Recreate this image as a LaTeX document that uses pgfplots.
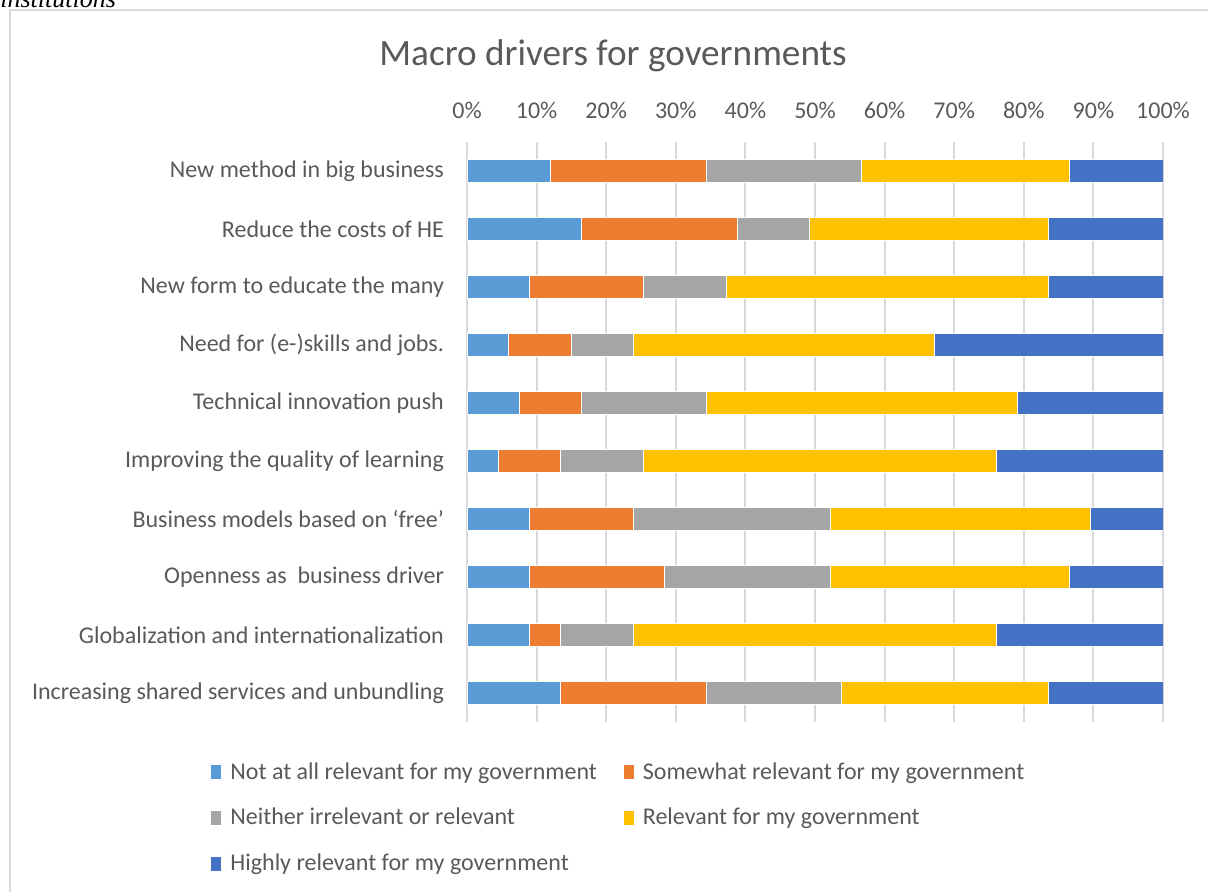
\documentclass[border=0pt]{standalone}
\usepackage{fontspec}
\setmainfont{Carlito}
\newfontfamily\timesf{Liberation Serif}
\usepackage{pgfplots}
\usepackage{pgfplotstable}
\pgfplotsset{compat=1.18}

\definecolor{txt}{HTML}{595959}
\definecolor{gridc}{HTML}{D9D9D9}
\definecolor{c1}{HTML}{5B9BD5}
\definecolor{c2}{HTML}{ED7D31}
\definecolor{c3}{HTML}{A5A5A5}
\definecolor{c4}{HTML}{FFC000}
\definecolor{c5}{HTML}{4472C4}

% shares of answers in percent, row 9 = top bar
\pgfplotstableread{
y  a      b      c      d      e
9  11.94  22.39  22.39  29.85  13.43
8  16.42  22.39  10.45  34.33  16.42
7  8.96   16.42  11.94  46.27  16.42
6  5.97   8.96   8.96   43.28  32.84
5  7.46   8.96   17.91  44.78  20.90
4  4.48   8.96   11.94  50.75  23.88
3  8.96   14.93  28.36  37.31  10.45
2  8.96   19.40  23.88  34.33  13.43
1  8.96   4.48   10.45  52.24  23.88
0  13.43  20.90  19.40  29.85  16.42
}\drivers

\begin{document}
\begin{tikzpicture}
\useasboundingbox (0,0) rectangle (604pt,445.5pt);
\clip (0,0) rectangle (604pt,445.5pt);
% caption text of the surrounding page, cut off
\node[anchor=base west, inner sep=0pt, font=\timesf\itshape\fontsize{13}{15}\selectfont, text=black]
  at (0pt,441.5pt) {institutions};
% chart frame
\draw[gridc, line width=0.6pt] (5pt,440.5pt) rectangle (620pt,-10pt);
\node[font=\fontsize{18.6}{22}\selectfont, text=txt] at (306.5pt,417.5pt) {Macro drivers for governments};
\begin{axis}[
    at={(233.5pt,84.5pt)}, anchor=south west,
    width=348pt, height=290pt, scale only axis,
    xbar stacked, bar width=11.7pt,
    xmin=0, xmax=100, ymin=-0.5, ymax=9.5,
    axis line style={draw=none},
    major tick length=0pt,
    xtick={0,10,...,100},
    xticklabel={\pgfmathprintnumber{\tick}\%},
    xticklabel pos=upper,
    xmajorgrids, major grid style={gridc, line width=1pt},
    ytick={0,...,9},
    yticklabels={
        Increasing shared services and unbundling\ ,
        Globalization and internationalization,
        Openness as\ \ business driver,
        Business models based on ‘free’,
        Improving the quality of learning,
        Technical innovation push\ ,
        Need for (e-)skills and jobs.,
        New form to educate the many,
        Reduce the costs of HE,
        New method in big business},
    /pgf/number format/assume math mode=true,
    tick label style={text=txt, font=\fontsize{12}{14}\selectfont},
    xticklabel style={yshift=8pt},
    yticklabel style={xshift=-8pt},
    every axis plot/.append style={draw=white, line width=0.4pt},
    legend style={at={(-131pt,-16pt)}, anchor=north west, draw=none, fill=none,
        font=\fontsize{12}{14}\selectfont, text=txt, row sep=9pt,
        /tikz/every odd column/.append style={column sep=2.5pt},
        /tikz/every even column/.append style={column sep=11.5pt}},
    legend columns=2,
    legend cell align=left,
    legend image code/.code={\fill[#1, draw=none] (0pt,-3.5pt) rectangle (5pt,3.5pt);},
]
\addplot[fill=c1] table[x=a, y=y] {\drivers};
\addplot[fill=c2] table[x=b, y=y] {\drivers};
\addplot[fill=c3] table[x=c, y=y] {\drivers};
\addplot[fill=c4] table[x=d, y=y] {\drivers};
\addplot[fill=c5] table[x=e, y=y] {\drivers};
\legend{Not at all relevant for my government, Somewhat relevant for my government,
        Neither irrelevant or relevant, Relevant for my government,
        Highly relevant for my government}
\end{axis}
\end{tikzpicture}
\end{document}
